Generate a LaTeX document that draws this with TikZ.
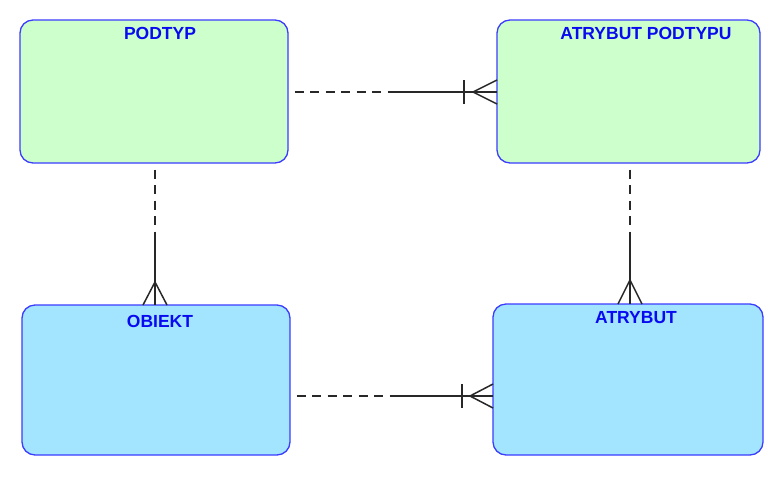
\documentclass[tikz,border=0pt]{standalone}
\usepackage{fontspec}
\setmainfont{Liberation Sans}
\definecolor{boxborder}{RGB}{60,60,255}
\definecolor{greenfill}{RGB}{204,255,204}
\definecolor{bluefill}{RGB}{163,228,255}
\definecolor{titleblue}{RGB}{10,10,240}
\definecolor{conn}{RGB}{40,40,40}
\tikzset{
  entity/.style={draw=boxborder, line width=1.3pt, rounded corners=13pt, inner sep=0pt, outer sep=0pt},
  title/.style={anchor=base, inner sep=0pt, text=titleblue, font=\fontsize{17.5}{17.5}\selectfont\bfseries},
  dashpart/.style={draw=conn, line width=1.5pt, dash pattern=on 9pt off 6.5pt, dash phase=9pt},
  solidpart/.style={draw=conn, line width=1.5pt},
}
\begin{document}
\begin{tikzpicture}[x=1pt,y=-1pt]
\useasboundingbox (0,0) rectangle (783,477);
% entities
\node[entity, fill=greenfill, minimum width=268pt, minimum height=143pt] (podtyp) at (154,91.5) {};
\node[entity, fill=greenfill, minimum width=263pt, minimum height=143pt] (atp) at (628.5,91.5) {};
\node[entity, fill=bluefill, minimum width=268pt, minimum height=150pt] (obiekt) at (156,380) {};
\node[entity, fill=bluefill, minimum width=270pt, minimum height=151pt] (atrybut) at (628,379.5) {};
% titles
\node[title] (tpodtyp) at (160,39.5) {PODTYP};
\node[title] (tatp) at (646,39.5) {ATRYBUT PODTYPU};
\node[title] (tobiekt) at (160,327) {OBIEKT};
\node[title] (tatrybut) at (636,323.5) {ATRYBUT};
% top connector PODTYP -- ATRYBUT PODTYPU
\coordinate (a1) at ([yshift=-0.5]podtyp.east);
\coordinate (a2) at ([yshift=-0.5]atp.west);
\draw[dashpart] (a1) -- ([xshift=102]a1) coordinate (am);
\draw[solidpart] (am) -- (a2);
\draw[solidpart] ([xshift=-33,yshift=-12]a2) -- ([xshift=-33,yshift=12]a2);
\draw[solidpart] ([yshift=-12]a2) -- ([xshift=-24]a2) -- ([yshift=12]a2);
% left vertical PODTYP -- OBIEKT
\coordinate (b1) at ([xshift=1]podtyp.south);
\coordinate (b2) at ([xshift=-1]obiekt.north);
\draw[dashpart] (b1) -- ([yshift=-72]b1) coordinate (bm);
\draw[solidpart] (bm) -- (b2);
\draw[solidpart] ([xshift=-12]b2) -- ([yshift=23]b2) -- ([xshift=12]b2);
% right vertical ATRYBUT PODTYPU -- ATRYBUT
\coordinate (c1) at ([xshift=1.5]atp.south);
\coordinate (c2) at ([xshift=2]atrybut.north);
\draw[dashpart] (c1) -- ([yshift=-72]c1) coordinate (cm);
\draw[solidpart] (cm) -- (c2);
\draw[solidpart] ([xshift=-12]c2) -- ([yshift=24]c2) -- ([xshift=12]c2);
% bottom connector OBIEKT -- ATRYBUT
\coordinate (d1) at ([yshift=-16]obiekt.east);
\coordinate (d2) at ([yshift=-16.5]atrybut.west);
\draw[dashpart] (d1) -- ([xshift=101]d1) coordinate (dm);
\draw[solidpart] (dm) -- (d2);
\draw[solidpart] ([xshift=-31,yshift=-12]d2) -- ([xshift=-31,yshift=12]d2);
\draw[solidpart] ([yshift=-12]d2) -- ([xshift=-23]d2) -- ([yshift=12]d2);
\end{tikzpicture}
\end{document}
